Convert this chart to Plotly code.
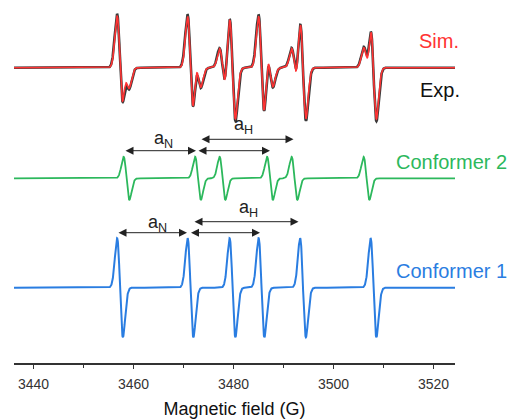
import numpy as np
import plotly.graph_objects as go

# ---- data ----
field_range = [3436.1, 3524.3]
tick_vals = [3440, 3460, 3480, 3500, 3520]
tick_text = ["3440", "3460", "3480", "3500", "3520"]

# line centres (G)
conf1_lines = [3457.3, 3471.4, 3479.8, 3485.6, 3493.9, 3508.0]
conf2_lines = [3458.6, 3472.9, 3477.8, 3487.3, 3492.2, 3506.6]
line_sigma = 0.58  # G

# amplitudes (display units) and baselines (offsets)
conf1_amp, conf1_base = 49.5, 75.3
conf2_amp, conf2_base = 21.5, 184.7
sim_amps = [51.0, 19.0]
exp_amps = [53.0, 19.5]
exp_sigma = 0.6
top_base = 295.3

# hyperfine arrows: (start, end, y) per conformer
c2_arrows = [(3458.1, 3472.5, 212.3), (3472.7, 3487.3, 212.3), (3473.3, 3492.0, 223.7)]
c1_arrows = [(3456.7, 3470.7, 130.3), (3471.2, 3485.3, 130.3), (3471.9, 3493.0, 141.3)]
c2_labels = [("a<sub>N</sub>", 3466.0, 224.0), ("a<sub>H</sub>", 3482.0, 238.0)]
c1_labels = [("a<sub>N</sub>", 3464.7, 140.0), ("a<sub>H</sub>", 3483.0, 155.0)]

RED = "#ff3333"
GREEN = "#2cb85c"
BLUE = "#2a7de1"

B = np.linspace(field_range[0], field_range[1], 3000)


def deriv(lines, amp, sigma):
    y = np.zeros_like(B)
    for c in lines:
        u = (B - c) / sigma
        y += -u * np.exp((1 - u ** 2) / 2)
    return amp * y


conf1 = deriv(conf1_lines, conf1_amp, line_sigma) + conf1_base
conf2 = deriv(conf2_lines, conf2_amp, line_sigma) + conf2_base
sim = deriv(conf1_lines, sim_amps[0], line_sigma) + deriv(conf2_lines, sim_amps[1], line_sigma) + top_base
exp = deriv(conf1_lines, exp_amps[0], exp_sigma) + deriv(conf2_lines, exp_amps[1], exp_sigma) + top_base

fig = go.Figure()
fig.add_trace(go.Scatter(x=B, y=exp, mode="lines", line=dict(color="#3a3a3a", width=2.6), hoverinfo="skip"))
fig.add_trace(go.Scatter(x=B, y=sim, mode="lines", line=dict(color=RED, width=1.6), hoverinfo="skip"))
fig.add_trace(go.Scatter(x=B, y=conf2, mode="lines", line=dict(color=GREEN, width=1.8), hoverinfo="skip"))
fig.add_trace(go.Scatter(x=B, y=conf1, mode="lines", line=dict(color=BLUE, width=2.0), hoverinfo="skip"))

anns = []
for (x0, x1, y) in c2_arrows + c1_arrows:
    anns.append(dict(x=x1, y=y, ax=x0, ay=y, xref="x", yref="y", axref="x", ayref="y",
                     text="", showarrow=True, arrowhead=2, arrowside="end+start",
                     arrowsize=1.6, arrowwidth=1, arrowcolor="#222", standoff=0, startstandoff=0))
for (t, x, y) in c2_labels + c1_labels:
    anns.append(dict(x=x, y=y, xref="x", yref="y", text=t, showarrow=False,
                     font=dict(size=18, color="#222", family="Liberation Sans, Arial")))

side = [("Sim.", 3516.7, 322.0, RED), ("Exp.", 3516.9, 273.0, "#111"),
        ("Conformer 2", 3512.0, 201.3, GREEN), ("Conformer 1", 3512.0, 92.0, BLUE)]
for t, x, y, c in side:
    anns.append(dict(x=x, y=y, xref="x", yref="y", text=t, showarrow=False, xanchor="left",
                     font=dict(size=20, color=c, family="Liberation Sans, Arial")))

fig.update_layout(
    width=507, height=419,
    margin=dict(l=14, r=52, t=0, b=56),
    paper_bgcolor="white", plot_bgcolor="white",
    showlegend=False,
    annotations=anns,
    xaxis=dict(range=field_range, tickvals=tick_vals, ticktext=tick_text,
               showgrid=False, zeroline=False, showline=True, linecolor="#333", linewidth=1.5,
               ticks="outside", ticklen=4, tickwidth=1.2, tickcolor="#333",
               ticklabelstandoff=3,
               minor=dict(dtick=10, tick0=3440, ticks="outside", ticklen=3, tickcolor="#333"),
               tickfont=dict(size=14, color="#333", family="Liberation Sans, Arial"),
               title=dict(text="Magnetic field (G)", standoff=13,
                          font=dict(size=18, color="#111", family="Liberation Sans, Arial"))),
    yaxis=dict(range=[0, 363], visible=False),
)

fig.write_html("out.html", config={"displayModeBar": False},
               post_script="document.body.style.margin='0px';document.body.style.overflow='hidden';")
